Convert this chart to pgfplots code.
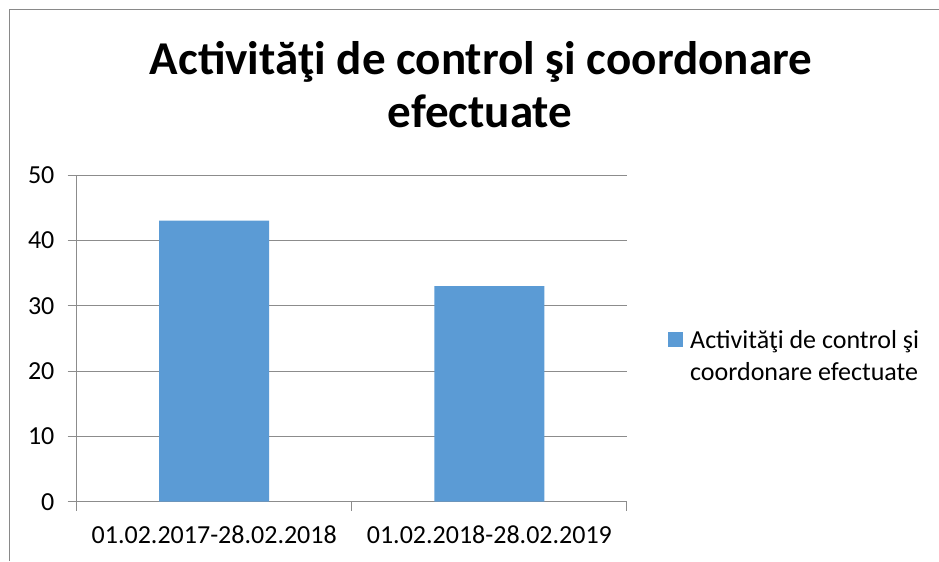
\documentclass[border=0pt]{standalone}
\usepackage{fontspec}
\setmainfont{Carlito}
\usepackage{pgfplots}
\pgfplotsset{compat=1.18}
\definecolor{barblue}{HTML}{5B9BD5}
\definecolor{gridgray}{HTML}{8C8C8C}
\definecolor{framegray}{HTML}{898989}

\begin{document}
\begin{tikzpicture}[x=0.75pt,y=0.75pt]
% canvas and chart frame (pixel units)
\path[use as bounding box] (0,0) rectangle (939,561);
\draw[framegray, line width=0.75pt] (9.5,0) -- (9.5,551) -- (939,551);

% title
\node[anchor=base, inner sep=0pt, font=\bfseries\fontsize{35.3}{42}\selectfont] at (481,486) {Activităţi de control şi coordonare};
\node[anchor=base, inner sep=0pt, font=\bfseries\fontsize{35.3}{42}\selectfont] at (480,433) {efectuate};

\begin{axis}[
    at={(57.5pt,44.5pt)}, anchor=south west,
    scale only axis,
    width=412.7pt, height=245pt,
    xmin=-0.5, xmax=1.5,
    ymin=0, ymax=50,
    ytick={0,10,20,30,40,50},
    xtick={-0.5,0.5,1.5},
    x tick label as interval,
    xticklabels={01.02.2017-28.02.2018, 01.02.2018-28.02.2019},
    axis x line*=bottom,
    axis y line*=left,
    axis line style={gridgray, line width=0.75pt, -},
    ymajorgrids,
    major grid style={gridgray, line width=0.75pt},
    tick align=outside,
    major tick length=6.75pt,
    tick style={gridgray, line width=0.75pt},
    tick label style={font=\fontsize{19.5}{23}\selectfont, black},
    /pgf/number format/assume math mode=true,
    yticklabel style={inner sep=0pt, xshift=-9.75pt},
    xticklabel style={inner sep=0pt, yshift=-11.25pt},
    legend style={at={(rel axis cs:1.0745,0.524)}, anchor=north west,
        draw=none, fill=none, inner sep=0pt,
        nodes={inner sep=0pt}, column sep=5.25pt,
        font=\fontsize{19.5}{24}\selectfont},
    legend cell align=left,
    legend image code/.code={\fill[barblue] (0pt,-4.5pt) rectangle (11.25pt,6.5pt);},
]
\addplot[ybar, bar width=82.5pt, fill=barblue, draw=none] coordinates {
    (0,43) (1,33)
};
\addlegendentry{\parbox[t]{180pt}{\raggedright Activităţi de control şi\\coordonare efectuate}}
\end{axis}
\end{tikzpicture}
\end{document}
